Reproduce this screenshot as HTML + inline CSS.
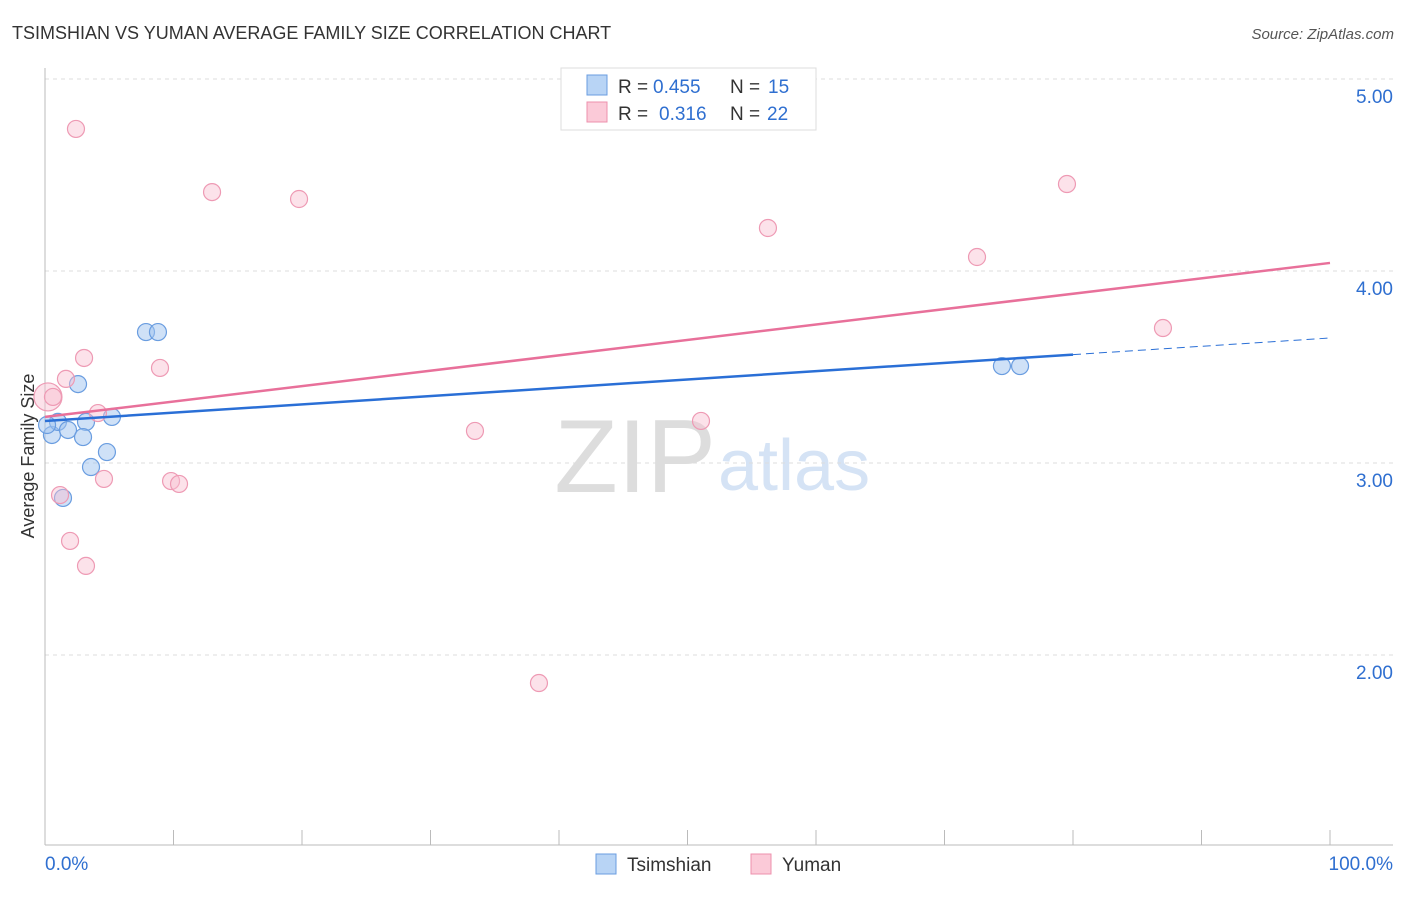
<!DOCTYPE html>
<html><head><meta charset="utf-8"><style>
body{margin:0;background:#fff;font-family:"Liberation Sans",sans-serif}
svg text{font-family:"Liberation Sans",sans-serif}
</style></head><body>
<svg id="c" width="1406" height="892" xmlns="http://www.w3.org/2000/svg">
<text x="12" y="39" font-size="18" fill="#333">TSIMSHIAN VS YUMAN AVERAGE FAMILY SIZE CORRELATION CHART</text>
<text x="1394" y="39" font-size="15" fill="#555" text-anchor="end" font-style="italic">Source: ZipAtlas.com</text>
<text x="34" y="456" font-size="18" fill="#333" text-anchor="middle" transform="rotate(-90 34 456)">Average Family Size</text>
<text x="716" y="492" font-size="104" fill="#ddd" text-anchor="end" font-family="Liberation Serif">ZIP</text>
<text x="718" y="490" font-size="72" fill="#d5e3f5">atlas</text>
<g id="grid"></g><g id="axes"></g><g id="pts"></g><g id="lines"></g>
<g>
<rect x="561" y="68" width="255" height="62" fill="#fff" stroke="#ddd"/>
<rect x="587" y="75" width="20" height="20" fill="#b8d4f5" stroke="#6a9de0"/>
<rect x="587" y="102" width="20" height="20" fill="#fbcad8" stroke="#ee90ad"/>
<text x="618" y="93" font-size="19" fill="#333">R =</text>
<text x="653" y="93" font-size="19" fill="#2f6fd0">0.455</text>
<text x="730" y="93" font-size="19" fill="#333">N =</text>
<text x="768" y="93" font-size="19" fill="#2f6fd0">15</text>
<text x="618" y="120" font-size="19" fill="#333">R =</text>
<text x="659" y="120" font-size="19" fill="#2f6fd0">0.316</text>
<text x="730" y="120" font-size="19" fill="#333">N =</text>
<text x="767" y="120" font-size="19" fill="#2f6fd0">22</text>
</g>
<g>
<rect x="596" y="854" width="20" height="20" fill="#b8d4f5" stroke="#6a9de0"/>
<text x="627" y="871" font-size="19" fill="#333">Tsimshian</text>
<rect x="751" y="854" width="20" height="20" fill="#fbcad8" stroke="#ee90ad"/>
<text x="782" y="871" font-size="19" fill="#333">Yuman</text>
</g>
<text x="45" y="870" font-size="19" fill="#2f6fd0">0.0%</text>
<text x="1393" y="870" font-size="19" fill="#2f6fd0" text-anchor="end">100.0%</text>
</svg>
<script>
const yTicks=[2,3,4,5];
const yTickLabels=["2.00","3.00","4.00","5.00"];
const blueX=[0.54,1.01,1.79,3.19,2.96,2.57,3.58,4.82,5.21,7.86,8.79,1.40,74.47,75.88,0.16];
const blueY=[3.146,3.214,3.172,3.214,3.135,3.411,2.979,3.057,3.240,3.682,3.682,2.818,3.505,3.505,3.198];
const pinkX=[2.41,13.0,19.77,56.26,79.53,72.53,87.0,3.04,1.63,8.95,0.23,0.62,4.12,33.46,51.05,4.59,9.81,10.43,1.17,1.95,3.19,38.44];
const pinkY=[4.740,4.411,4.375,4.224,4.453,4.073,3.703,3.547,3.438,3.495,3.344,3.344,3.260,3.167,3.219,2.917,2.906,2.891,2.833,2.594,2.464,1.854];
const pinkR=[8.5,8.5,8.5,8.5,8.5,8.5,8.5,8.5,8.5,8.5,14,8.5,8.5,8.5,8.5,8.5,8.5,8.5,8.5,8.5,8.5,8.5];
const blueTrend=[3.219,3.651];
const pinkTrend=[3.240,4.042];
const blueSolidEnd=80;
const NS="http://www.w3.org/2000/svg";
const X=p=>45+p*12.85, Y=v=>463-(v-3)*192;
function mk(t,a,parent){const e=document.createElementNS(NS,t);for(const k in a)e.setAttribute(k,a[k]);document.getElementById(parent).appendChild(e);return e;}
yTicks.forEach((v,i)=>{
 const g=mk('line',{x1:45,x2:1393,y1:Y(v),y2:Y(v),stroke:'#ddd','stroke-dasharray':'4 4'},'grid');
 
 
 const t=mk('text',{x:1393,y:Y(v)+24,'font-size':19,fill:'#2f6fd0','text-anchor':'end'},'grid');
 t.textContent=yTickLabels[i];
 
 
});
let a=mk('line',{x1:45,x2:45,y1:68,y2:845,stroke:'#bbb'},'axes');


a=mk('line',{x1:45,x2:1393,y1:845,y2:845,stroke:'#bbb'},'axes');


for(let k=1;k<=10;k++){const t=mk('line',{x1:X(k*10),x2:X(k*10),y1:830,y2:845,stroke:'#bbb'},'axes');
 
 }
blueX.forEach((x,i)=>{const c=mk('circle',{cx:X(x),cy:Y(blueY[i]),r:8.5,fill:'rgba(160,195,240,0.5)',stroke:'#6a9de0','stroke-width':1.2},'pts');
 
 });
pinkX.forEach((x,i)=>{const c=mk('circle',{cx:X(x),cy:Y(pinkY[i]),r:pinkR[i],fill:'rgba(248,190,208,0.45)',stroke:'#ee9ab4','stroke-width':1.2},'pts');
 
 });
const bl=v=>blueTrend[0]+(blueTrend[1]-blueTrend[0])*v/100;
let l=mk('line',{x1:X(0),y1:Y(bl(0)),x2:X(blueSolidEnd),y2:Y(bl(blueSolidEnd)),stroke:'#2a6fd6','stroke-width':2.5},'lines');


l=mk('line',{x1:X(blueSolidEnd),y1:Y(bl(blueSolidEnd)),x2:X(100),y2:Y(bl(100)),stroke:'#2a6fd6','stroke-width':1,'stroke-dasharray':'8 5'},'lines');


l=mk('line',{x1:X(0),y1:Y(pinkTrend[0]),x2:X(100),y2:Y(pinkTrend[1]),stroke:'#e8709a','stroke-width':2.5},'lines');


</script>
</body></html>
